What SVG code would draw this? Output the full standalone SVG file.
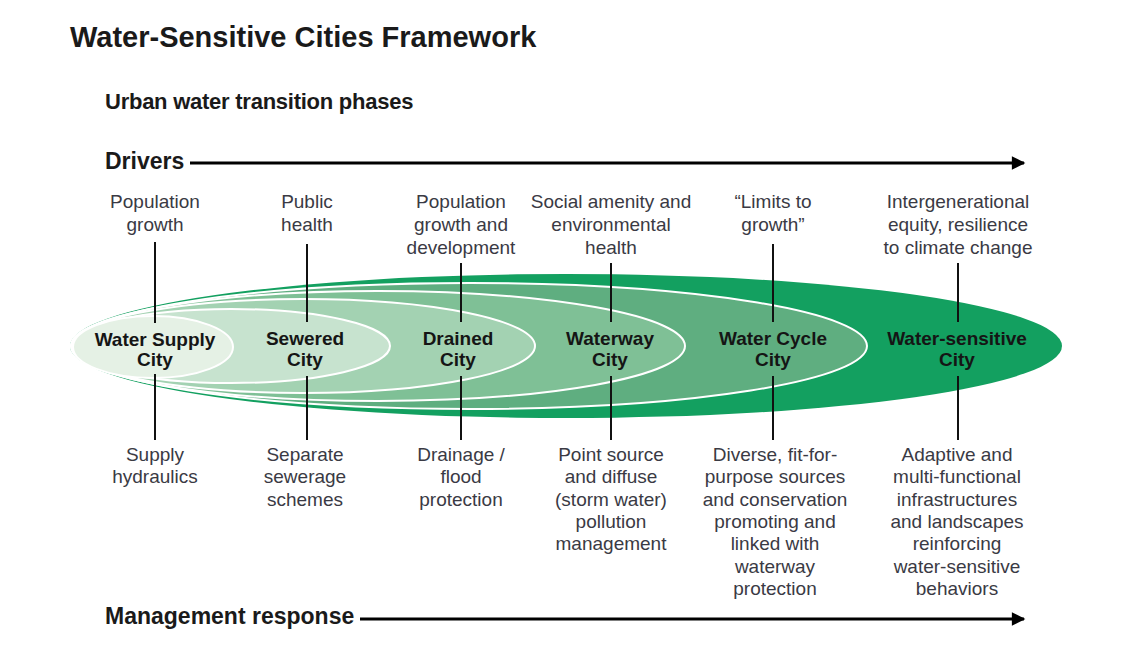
<svg xmlns="http://www.w3.org/2000/svg" width="1128" height="652" viewBox="0 0 1128 652">
<defs>
<style>
.h{font-family:"Liberation Sans",Arial,sans-serif;font-weight:bold;fill:#1a1a1a}
.t{font-family:"Liberation Sans",Arial,sans-serif;font-size:19px;fill:#3a3a44;text-anchor:middle}
.c{font-family:"Liberation Sans",Arial,sans-serif;font-weight:bold;font-size:19px;fill:#151515;text-anchor:middle}
.ell{stroke:#ffffff;stroke-width:2}
.v{stroke:#111;stroke-width:2;fill:none}
.arr{stroke:#000;stroke-width:3;fill:none}
</style>
<marker id="ah" viewBox="0 0 10 10" refX="9" refY="5" markerWidth="5" markerHeight="4.5" orient="auto" markerUnits="strokeWidth">
<path d="M0,0 L10,5 L0,10 Z" fill="#000"/>
</marker>
</defs>
<rect width="1128" height="652" fill="#ffffff"/>
<text class="h" x="70" y="47" font-size="29">Water-Sensitive Cities Framework</text>
<text class="h" x="105" y="109" font-size="22" letter-spacing="-0.25">Urban water transition phases</text>
<text class="h" x="105" y="169" font-size="23">Drivers</text>
<text class="h" x="105" y="624" font-size="23">Management response</text>

<g id="node-water-sensitive">
<ellipse cx="566" cy="346" rx="496" ry="72" fill="#13a060"/>
<text class="c" x="957" y="345">Water-sensitive</text>
<text class="c" x="957" y="366">City</text>
<text class="t" x="958" y="208">Intergenerational</text>
<text class="t" x="958" y="231">equity, resilience</text>
<text class="t" x="958" y="254">to climate change</text>
<text class="t" x="957" y="461">Adaptive and</text>
<text class="t" x="957" y="483">multi-functional</text>
<text class="t" x="957" y="506">infrastructures</text>
<text class="t" x="957" y="528">and landscapes</text>
<text class="t" x="957" y="550">reinforcing</text>
<text class="t" x="957" y="573">water-sensitive</text>
<text class="t" x="957" y="595">behaviors</text>
</g>
<g id="node-water-cycle">
<ellipse class="ell" cx="470" cy="346" rx="397" ry="63" fill="#5fae80"/>
<text class="c" x="773" y="345">Water Cycle</text>
<text class="c" x="773" y="366">City</text>
<text class="t" x="773" y="208">“Limits to</text>
<text class="t" x="773" y="231">growth”</text>
<text class="t" x="775" y="461">Diverse, fit-for-</text>
<text class="t" x="775" y="483">purpose sources</text>
<text class="t" x="775" y="506">and conservation</text>
<text class="t" x="775" y="528">promoting and</text>
<text class="t" x="775" y="550">linked with</text>
<text class="t" x="775" y="573">waterway</text>
<text class="t" x="775" y="595">protection</text>
</g>
<g id="node-waterway">
<ellipse class="ell" cx="378" cy="346" rx="307" ry="55" fill="#7fc096"/>
<text class="c" x="610" y="345">Waterway</text>
<text class="c" x="610" y="366">City</text>
<text class="t" x="611" y="208">Social amenity and</text>
<text class="t" x="611" y="231">environmental</text>
<text class="t" x="611" y="254">health</text>
<text class="t" x="611" y="461">Point source</text>
<text class="t" x="611" y="483">and diffuse</text>
<text class="t" x="611" y="506">(storm water)</text>
<text class="t" x="611" y="528">pollution</text>
<text class="t" x="611" y="550">management</text>
</g>
<g id="node-drained">
<ellipse class="ell" cx="303" cy="346" rx="232" ry="47" fill="#a3d2b2"/>
<text class="c" x="458" y="345">Drained</text>
<text class="c" x="458" y="366">City</text>
<text class="t" x="461" y="208">Population</text>
<text class="t" x="461" y="231">growth and</text>
<text class="t" x="461" y="254">development</text>
<text class="t" x="461" y="461">Drainage /</text>
<text class="t" x="461" y="483">flood</text>
<text class="t" x="461" y="506">protection</text>
</g>
<g id="node-sewered">
<ellipse class="ell" cx="231" cy="346" rx="159" ry="37" fill="#c7e3cf"/>
<text class="c" x="305" y="345">Sewered</text>
<text class="c" x="305" y="366">City</text>
<text class="t" x="307" y="208">Public</text>
<text class="t" x="307" y="231">health</text>
<text class="t" x="305" y="461">Separate</text>
<text class="t" x="305" y="483">sewerage</text>
<text class="t" x="305" y="506">schemes</text>
</g>
<g id="node-water-supply">
<ellipse class="ell" cx="153" cy="347" rx="80" ry="31" fill="#e5f1e5"/>
<text class="c" x="155" y="346" font-size="17.5">Water Supply</text>
<text class="c" x="155" y="366" font-size="17.5">City</text>
<text class="t" x="155" y="208">Population</text>
<text class="t" x="155" y="231">growth</text>
<text class="t" x="155" y="461">Supply</text>
<text class="t" x="155" y="483">hydraulics</text>
</g>

<g id="connectors">
<line class="arr" x1="190" y1="163" x2="1024" y2="163" marker-end="url(#ah)"/>
<line class="arr" x1="360" y1="619" x2="1024" y2="619" marker-end="url(#ah)"/>
<line class="v" x1="155" y1="242" x2="155" y2="323"/>
<line class="v" x1="155" y1="374" x2="155" y2="440"/>
<line class="v" x1="307" y1="244" x2="307" y2="322"/>
<line class="v" x1="307" y1="376" x2="307" y2="440"/>
<line class="v" x1="461" y1="263" x2="461" y2="322"/>
<line class="v" x1="461" y1="376" x2="461" y2="440"/>
<line class="v" x1="611" y1="263" x2="611" y2="322"/>
<line class="v" x1="611" y1="376" x2="611" y2="440"/>
<line class="v" x1="773" y1="244" x2="773" y2="322"/>
<line class="v" x1="773" y1="376" x2="773" y2="440"/>
<line class="v" x1="958" y1="263" x2="958" y2="322"/>
<line class="v" x1="958" y1="376" x2="958" y2="440"/>
</g>
</svg>
